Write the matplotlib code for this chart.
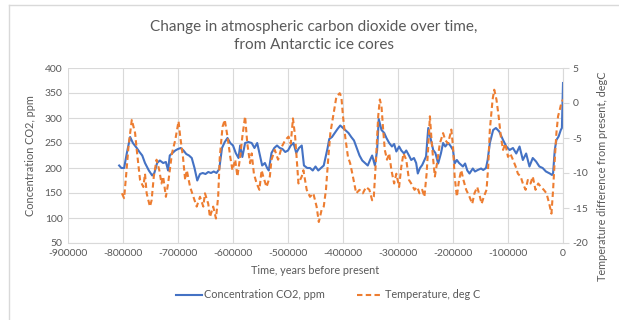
import matplotlib.pyplot as plt
from matplotlib.lines import Line2D

## CO2 concentration (ppm)
co2_years = [-807000, -803000, -798000, -793000, -787000, -782000, -775000, -770000, -765000, -760000,
             -753000, -747000, -743000, -738000, -733000, -727000, -722000, -718000, -715000, -710000,
             -705000, -700000, -695000, -690000, -685000, -680000, -675000, -670000, -665000, -660000,
             -655000, -650000, -645000, -640000, -635000, -630000, -625000, -620000, -615000, -610000,
             -605000, -600000, -595000, -590000, -587000, -583000, -578000, -572000, -566000, -561000,
             -556000, -552000, -547000, -542000, -538000, -535000, -530000, -525000, -520000, -515000,
             -510000, -505000, -500000, -495000, -490000, -485000, -480000, -475000, -471000, -465000,
             -460000, -455000, -450000, -445000, -440000, -435000, -428000, -425000, -420000, -415000,
             -410000, -405000, -400000, -395000, -390000, -385000, -380000, -375000, -370000, -365000,
             -360000, -355000, -350000, -347000, -342000, -338000, -335000, -330000, -325000, -321000,
             -316000, -311000, -307000, -303000, -298000, -294000, -289000, -285000, -280000, -276000,
             -271000, -267000, -264000, -260000, -256000, -252000, -249000, -245000, -240000, -236000,
             -232000, -227000, -222000, -218000, -214000, -209000, -205000, -200000, -197000, -193000,
             -189000, -182000, -178000, -174000, -170000, -164000, -160000, -155000, -149000, -145000,
             -140000, -137000, -133000, -127000, -122000, -116000, -109000, -103000, -97000, -91000,
             -85000, -79000, -73000, -67000, -61000, -55000, -49000, -43000, -37000, -31000,
             -24000, -20000, -18000, -15000, -12000, -8000, -4000, -2000, 0]
co2_ppm = [205, 200, 200, 230, 262, 250, 240, 232, 225, 210,
           195, 185, 190, 210, 215, 210, 212, 195, 225, 230,
           235, 238, 240, 235, 228, 225, 220, 200, 175, 188,
           190, 188, 192, 190, 193, 190, 198, 240, 252, 260,
           250, 245, 230, 220, 245, 222, 250, 252, 250, 240,
           250, 230, 205, 210, 200, 195, 230, 240, 245, 240,
           238, 232, 235, 245, 250, 230, 240, 245, 205, 200,
           200, 195, 203, 195, 200, 205, 240, 258, 262, 270,
           278, 285, 280, 275, 270, 262, 255, 240, 225, 215,
           210, 205, 218, 225, 205, 235, 298, 276, 270, 260,
           250, 243, 248, 233, 243, 235, 229, 235, 225, 216,
           220, 210, 189, 200, 206, 216, 223, 280, 256, 236,
           230, 209, 229, 250, 243, 250, 245, 236, 209, 216,
           210, 203, 209, 195, 189, 199, 193, 196, 199, 196,
           200, 216, 250, 276, 280, 273, 256, 243, 236, 240,
           229, 243, 216, 229, 203, 220, 213, 203, 200, 193,
           189, 186, 190, 236, 256, 263, 276, 280, 370]

## Temperature difference from present (deg C)
temp_years = [-802000, -798000, -794500, -790000, -784000, -778000, -775000, -769000, -763000, -760000,
              -757000, -751000, -748000, -744000, -739000, -734000, -730000, -727000, -722000, -718000,
              -711000, -705000, -699000, -696000, -691000, -687000, -684000, -678000, -672000, -666000,
              -660000, -654000, -651000, -645000, -642000, -636000, -631000, -627000, -624000, -619000,
              -615000, -610000, -605000, -601000, -596000, -592000, -587000, -583000, -578000, -574000,
              -569000, -566000, -562000, -557000, -552000, -548000, -545000, -539000, -533000, -530000,
              -524000, -518000, -511000, -505000, -499000, -495000, -491000, -487000, -484000, -481000,
              -475000, -472000, -466000, -460000, -454000, -448000, -444000, -439000, -435000, -431000,
              -427000, -423000, -418000, -412000, -406000, -403000, -400000, -396000, -391000, -387000,
              -382000, -376000, -370000, -364000, -358000, -352000, -347000, -344000, -340000, -336000,
              -333000, -330000, -327000, -324000, -320000, -316000, -312000, -307000, -303000, -298000,
              -294000, -290000, -285000, -280000, -276000, -270000, -265000, -261000, -256000, -252000,
              -248000, -245000, -242000, -239000, -236000, -233000, -229000, -224000, -218000, -214000,
              -209000, -203000, -200000, -197000, -193000, -189000, -185000, -181000, -176000, -170000,
              -165000, -161000, -156000, -151000, -148000, -144000, -139000, -136000, -133000, -128000,
              -125000, -121000, -117000, -113000, -109000, -105000, -100000, -96000, -91000, -86000,
              -82000, -77000, -73000, -68000, -64000, -59000, -55000, -50000, -45000, -40000,
              -35000, -30000, -25000, -21000, -18000, -15000, -12000, -9000, -6000, -3000, 0]
temp_degc = [-12.9, -13.6, -10.5, -6.2, -2.4, -4.3, -6.7, -11.0, -12.0, -10.1,
             -12.9, -14.8, -13.9, -10.5, -8.1, -9.6, -11.5, -10.5, -13.4, -11.5,
             -7.2, -5.3, -2.6, -4.8, -7.7, -11.0, -9.6, -12.0, -13.4, -14.8,
             -13.4, -14.8, -12.9, -14.4, -16.3, -14.8, -16.5, -13.4, -7.7, -3.4,
             -2.4, -4.8, -7.7, -9.6, -8.1, -10.5, -7.7, -4.8, -1.9, -5.8,
             -8.6, -7.2, -10.1, -11.5, -12.4, -9.6, -10.5, -12.0, -10.5, -8.1,
             -6.7, -8.1, -6.2, -5.3, -4.8, -5.8, -2.2, -4.8, -8.1, -11.5,
             -10.5, -9.6, -12.4, -13.4, -12.9, -14.8, -17.0, -15.3, -14.8, -12.4,
             -8.1, -4.3, -1.9, 0.9, 1.4, 0.9, -1.9, -4.8, -7.7, -8.6,
             -10.5, -12.9, -12.4, -12.9, -12.0, -12.4, -13.9, -13.4, -8.1, -1.9,
             0.5, -0.5, -3.8, -6.7, -8.1, -7.2, -9.6, -11.5, -10.1, -12.0,
             -9.1, -7.2, -8.1, -11.0, -11.5, -12.4, -12.0, -12.9, -12.4, -13.4,
             -10.1, -6.2, -1.9, -5.3, -8.1, -10.5, -8.6, -5.8, -4.3, -5.3,
             -5.8, -3.8, -6.2, -10.5, -13.4, -11.0, -9.6, -11.0, -12.4, -13.4,
             -14.4, -12.9, -12.0, -13.4, -14.4, -13.4, -12.4, -9.1, -3.8, 0.5,
             1.9, 0.5, -1.9, -4.8, -6.7, -5.8, -7.7, -7.2, -8.1, -9.1,
             -10.1, -10.5, -11.5, -12.4, -11.0, -11.5, -10.5, -12.4, -11.5, -12.0,
             -12.4, -12.9, -14.4, -15.8, -12.4, -8.1, -4.3, -1.9, -1.0, 0.0, 0.5]

blue = '#4472C4'
orange = '#ED7D31'
grey = '#595959'
grid = '#D9D9D9'

plt.rcParams['font.family'] = ['Lato', 'DejaVu Sans']
plt.rcParams['axes.unicode_minus'] = False

fig = plt.figure(figsize=(6.19, 3.2), dpi=100)
ax = fig.add_axes([68/619, 1-243/320, (563-68)/619, (243-68)/320])
ax2 = ax.twinx()

ax.plot(co2_years, co2_ppm, color=blue, lw=1.5, label='Concentration CO2, ppm')
ax2.plot(temp_years, temp_degc, color=orange, lw=1.5, dashes=(2.6, 1.6),
         label='Temperature, deg C')

ax.set_xlim(-900000, 0)
ax.set_ylim(50, 400)
ax2.set_ylim(-20, 5)
ax.set_xticks(range(-900000, 1, 100000))
ax.set_yticks(range(50, 401, 50))
ax2.set_yticks(range(-20, 6, 5))
ax.grid(True, color=grid, lw=0.8)
ax.set_axisbelow(True)

for a in (ax, ax2):
    for s in a.spines.values():
        s.set_visible(False)
    a.tick_params(colors=grey, labelsize=7.5)
ax.spines['bottom'].set_visible(True)
ax.spines['bottom'].set_color(grid)
ax2.spines['right'].set_visible(True)
ax2.spines['right'].set_color(grid)
ax.tick_params(axis='both', length=0, pad=4)
ax2.tick_params(axis='y', length=4, width=0.8, color=grid, pad=3)

ax.set_xlabel('Time, years before present', color=grey, fontsize=7.8, labelpad=5)
ax.set_ylabel('Concentration CO2, ppm', color=grey, fontsize=7.8, labelpad=6)
ax2.set_ylabel('Temperature difference from present, degC', color=grey, fontsize=7.8)
ax2.yaxis.set_label_coords(1.068, 0.38)

fig.text(0.507, 1-36/320, 'Change in atmospheric carbon dioxide over time,\nfrom Antarctic ice cores',
         ha='center', va='center', fontsize=11, color=grey, linespacing=1.35)

handles = [Line2D([], [], color=blue, lw=1.5),
           Line2D([], [], color=orange, lw=1.5, dashes=(2.6, 1.6))]
fig.legend(handles, ['Concentration CO2, ppm', 'Temperature, deg C'], loc='center',
           bbox_to_anchor=(0.53, 1-295/320), ncol=2, frameon=False, fontsize=7.8,
           labelcolor=grey, handlelength=2.4, handletextpad=0.2, columnspacing=3.0)

# light frame round the chart area
fig.add_artist(Line2D([9/619, 9/619], [0, 1-5/320], color=grid, lw=1, transform=fig.transFigure))
fig.add_artist(Line2D([9/619, 1], [1-5/320, 1-5/320], color=grid, lw=1, transform=fig.transFigure))

fig.savefig('out.png', dpi=100)
